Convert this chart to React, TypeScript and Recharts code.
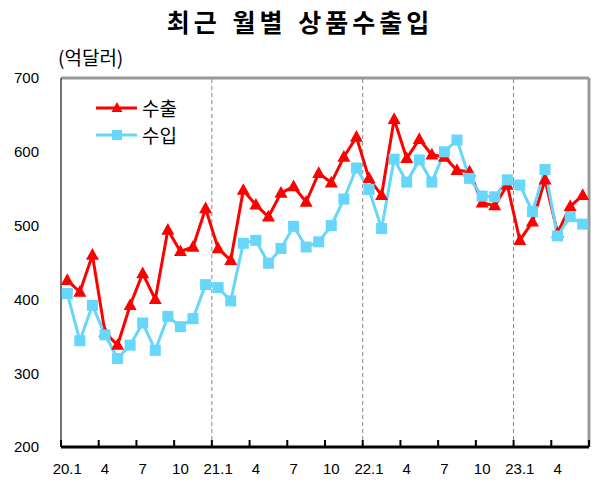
import { LineChart, Line, XAxis, YAxis, ReferenceLine } from 'recharts'

// 2020.1 ~ 2023.6 monthly
const years = [20, 21, 22, 23]
const months = years.flatMap(y => Array.from({ length: 12 }, (_, m) => `${y}.${m + 1}`)).slice(0, 42)

const exportValues = [
  426, 410, 460, 355, 338, 392, 435, 400, 494, 465, 471, 523,
  469, 453, 548, 528, 512, 544, 553, 532, 571, 558, 593, 620,
  564, 541, 644, 591, 617, 596, 593, 575, 573, 531, 527, 555,
  480, 505, 562, 490, 526, 541,
]
const importValues = [
  408, 344, 392, 352, 320, 338, 368, 331, 377, 363, 374, 420,
  416, 398, 476, 480, 449, 469, 499, 471, 478, 500, 536, 578,
  549, 496, 590, 559, 589, 559, 600, 616, 564, 540, 539, 562,
  555, 519, 576, 486, 512, 502,
]

const yTicks = [200, 300, 400, 500, 600, 700]
const boundaryTicks = [0, 3, 6, 9, 12, 15, 18, 21, 24, 27, 30, 33, 36, 39, 42]
const yearBreaks = [12, 24, 36]

const RED = '#ff0000'
const BLUE = '#66d6fa'
const FONT = '"Liberation Sans", Arial, sans-serif'
const KFONT = '"Noto Sans CJK KR", sans-serif'

const PLOT_W = 528
const BAND = PLOT_W / months.length

const data = months.map((m, i) => ({
  month: m,
  pos: i + 0.5,
  exp: exportValues[i],
  imp: importValues[i],
}))

function Triangle({ cx, cy, color, size = 13 }: { cx?: number; cy?: number; color: string; size?: number }) {
  if (cx == null || cy == null) return null
  const h = size * 0.9
  return (
    <polygon
      points={`${cx},${cy - h * 0.6} ${cx - size / 2},${cy + h * 0.4} ${cx + size / 2},${cy + h * 0.4}`}
      fill={color}
    />
  )
}

function Square({ cx, cy, color, size = 11 }: { cx?: number; cy?: number; color: string; size?: number }) {
  if (cx == null || cy == null) return null
  return <rect x={cx - size / 2} y={cy - size / 2} width={size} height={size} fill={color} />
}

const series = [
  { name: '수출', color: RED, shape: 'tri' },
  { name: '수입', color: BLUE, shape: 'sq' },
]

function LegendBox() {
  return (
    <div style={{ position: 'absolute', left: 96, top: 94 }}>
      {series.map(s => (
        <div key={s.name} style={{ display: 'flex', alignItems: 'center', height: 27 }}>
          <svg width={42} height={20} style={{ display: 'block' }}>
            <line x1={0} y1={10} x2={41} y2={10} stroke={s.color} strokeWidth={3} />
            {s.shape === 'tri'
              ? <Triangle cx={21} cy={10} color={s.color} size={11} />
              : <Square cx={21} cy={10} color={s.color} size={10} />}
          </svg>
          <span style={{ fontFamily: KFONT, fontSize: 19, lineHeight: '27px', color: '#000', marginLeft: 4 }}>{s.name}</span>
        </div>
      ))}
    </div>
  )
}

// tick mark at the band boundary, label centred on the following month
function XTick({ x, y, payload }: { x?: number; y?: number; payload?: { value: number } }) {
  const v = payload?.value ?? 0
  const m = months[v]
  const label = m ? (m.endsWith('.1') ? m : m.split('.')[1]) : ''
  return (
    <g>
      <path d={`M${x},${y}V${(y ?? 0) - 7}`} stroke="#000" strokeWidth={2} fill="none" />
      {label && (
        <text x={(x ?? 0) + BAND / 2} y={(y ?? 0) + 27} textAnchor="middle" fontFamily={FONT} fontSize={15} fill="#000">
          {label}
        </text>
      )}
    </g>
  )
}

export default function App() {
  return (
    <div style={{ position: 'absolute', left: 0, top: 0, width: 600, height: 482, background: '#fff' }}>
      <div style={{
        position: 'absolute', left: 0, top: 3, width: 600, textAlign: 'center',
        fontFamily: KFONT, fontWeight: 700, fontSize: 25, letterSpacing: 4, wordSpacing: 2, color: '#000',
      }}>
        최근 월별 상품수출입
      </div>
      <div style={{ position: 'absolute', left: 58, top: 43, fontFamily: KFONT, fontSize: 19, color: '#000' }}>
        (억달러)
      </div>
      <LineChart width={600} height={482} data={data} margin={{ top: 78, right: 11, bottom: 0, left: 0 }}>
        <XAxis
          type="number"
          dataKey="pos"
          domain={[0, 42]}
          ticks={boundaryTicks}
          interval={0}
          height={35}
          tickSize={0}
          tickMargin={0}
          tickLine={false}
          axisLine={{ stroke: '#000', strokeWidth: 3 }}
          tick={<XTick />}
        />
        <YAxis
          domain={[200, 700]}
          ticks={yTicks}
          width={61}
          tickLine={false}
          tickSize={0}
          tickMargin={22}
          axisLine={{ stroke: '#444', strokeWidth: 1.5 }}
          tick={{ fill: '#000', fontSize: 15, fontFamily: FONT }}
        />
        <ReferenceLine y={700} stroke="#999" strokeWidth={3} ifOverflow="visible" />
        <ReferenceLine x={42} stroke="#999" strokeWidth={3} ifOverflow="visible" />
        {yearBreaks.map(b => (
          <ReferenceLine key={b} x={b} stroke="#888" strokeDasharray="4 3" />
        ))}
        <Line
          dataKey="exp"
          name="수출"
          stroke={RED}
          strokeWidth={3}
          dot={(p: any) => <Triangle key={p.index} cx={p.cx} cy={p.cy} color={RED} />}
          activeDot={false}
          isAnimationActive={false}
        />
        <Line
          dataKey="imp"
          name="수입"
          stroke={BLUE}
          strokeWidth={3}
          dot={(p: any) => <Square key={p.index} cx={p.cx} cy={p.cy} color={BLUE} />}
          activeDot={false}
          isAnimationActive={false}
        />
      </LineChart>
      <LegendBox />
    </div>
  )
}
